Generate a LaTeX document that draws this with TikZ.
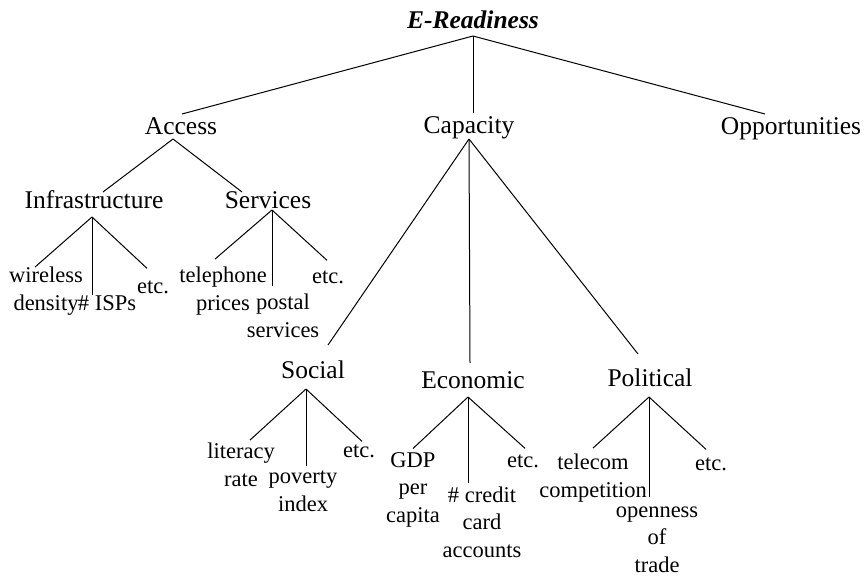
\documentclass[tikz,border=0pt]{standalone}
\usepackage{fontspec}
\setmainfont{Liberation Serif}
\begin{document}
\begin{tikzpicture}[x=1pt,y=-1pt,
  head/.style={font=\fontsize{25.5}{30}\selectfont, anchor=base, inner sep=0pt, outer sep=0pt},
  leaf/.style={font=\fontsize{22.5}{27.3}\selectfont, anchor=base, align=center, inner sep=0pt, outer sep=0pt},
  link/.style={line width=1pt, black}]
\useasboundingbox (0,0) rectangle (864,576);
% level 0 and 1
\node[head, font=\fontsize{25.5}{30}\selectfont\bfseries\itshape] (er) at (473,28) {E-Readiness};
\node[head] (acc) at (181,134) {Access};
\node[head] (cap) at (469,133) {Capacity};
\node[head] (opp) at (791,134) {Opportunities};
% level 2
\node[head] (inf) at (94,208) {Infrastructure};
\node[head] (ser) at (268,208) {Services};
\node[head] (soc) at (313,378) {Social};
\node[head] (eco) at (473,388) {Economic};
\node[head] (pol) at (650,386) {Political};
% leaves (anchored at the baseline of their last line)
\node[leaf] (wd) at (46,310) {wireless\\density};
\node[leaf] (isp) at (107,310) {\# ISPs};
\node[leaf] (etca) at (153,293) {etc.};
\node[leaf] (tp) at (223,310) {telephone\\prices};
\node[leaf] (ps) at (283,337) {postal\\services};
\node[leaf] (etcb) at (328,283) {etc.};
\node[leaf] (lr) at (241,486) {literacy\\rate};
\node[leaf] (pi) at (303,511) {poverty\\index};
\node[leaf] (etcc) at (359,457) {etc.};
\node[leaf] (gdp) at (413,522) {GDP\\per\\capita};
\node[leaf] (cc) at (482,557) {\# credit\\card\\accounts};
\node[leaf] (etcd) at (523,467) {etc.};
\node[leaf] (tc) at (593,497) {telecom\\competition};
\node[leaf] (ot) at (657,572) {openness\\of\\trade};
\node[leaf] (etce) at (711,470) {etc.};
% connectors
\draw[link] ([shift={(0,8)}]er.base) -- ([shift={(1,-20)}]acc.base);
\draw[link] ([shift={(0,8)}]er.base) -- ([shift={(4,-20)}]cap.base);
\draw[link] ([shift={(0,8)}]er.base) -- ([shift={(-26,-20)}]opp.base);
\draw[link] ([shift={(-8,5)}]acc.base) -- ([shift={(9,-16)}]inf.base);
\draw[link] ([shift={(-8,5)}]acc.base) -- ([shift={(-26,-16)}]ser.base);
\draw[link] ([shift={(0,6)}]cap.base) -- ([shift={(15,-33)}]soc.base);
\draw[link] ([shift={(0,6)}]cap.base) -- ([shift={(-3,-25)}]eco.base);
\draw[link] ([shift={(0,6)}]cap.base) -- ([shift={(-12,-32)}]pol.base);
\draw[link] ([shift={(-2,9)}]inf.base) -- ([shift={(-11,0)}]wd.north);
\draw[link] ([shift={(-2,9)}]inf.base) -- ([shift={(-15,0)}]isp.north);
\draw[link] ([shift={(-2,9)}]inf.base) -- ([shift={(-6,-12)}]etca.north);
\draw[link] ([shift={(4,2)}]ser.base) -- ([shift={(-8,-8)}]tp.north);
\draw[link] ([shift={(4,2)}]ser.base) -- ([shift={(-11,-8)}]ps.north);
\draw[link] ([shift={(4,2)}]ser.base) -- ([shift={(-1,-10)}]etcb.north);
\draw[link] ([shift={(-7,11)}]soc.base) -- ([shift={(9,-3)}]lr.north);
\draw[link] ([shift={(-7,11)}]soc.base) -- ([shift={(3,-5)}]pi.north);
\draw[link] ([shift={(-7,11)}]soc.base) -- ([shift={(3,-3)}]etcc.north);
\draw[link] ([shift={(-5,9)}]eco.base) -- ([shift={(0,-4)}]gdp.north);
\draw[link] ([shift={(-5,9)}]eco.base) -- ([shift={(-14,-4)}]cc.north);
\draw[link] ([shift={(-5,9)}]eco.base) -- ([shift={(2,-6)}]etcd.north);
\draw[link] ([shift={(-1,11)}]pol.base) -- ([shift={(0,-6)}]tc.north);
\draw[link] ([shift={(-1,11)}]pol.base) -- ([shift={(-8,-10)}]ot.north);
\draw[link] ([shift={(-1,11)}]pol.base) -- ([shift={(-5,-8)}]etce.north);
\end{tikzpicture}
\end{document}
